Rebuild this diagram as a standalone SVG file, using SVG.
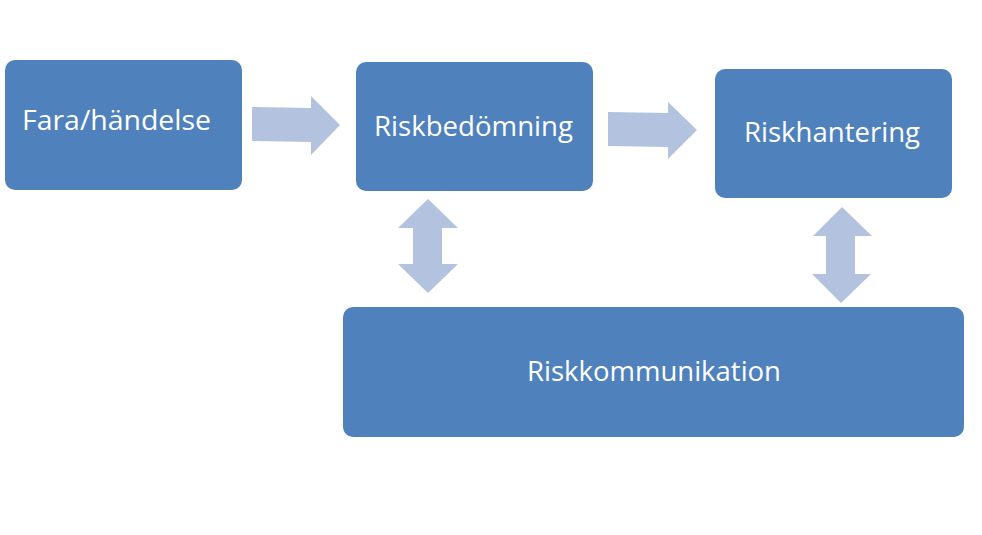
<svg xmlns="http://www.w3.org/2000/svg" width="982" height="535" viewBox="0 0 982 535">
<style>
.box{fill:#4F81BD}
.arr{fill:#B3C3DF}
.lbl{fill:#FFFFFF;font-family:"Open Sans","Liberation Sans",sans-serif;font-size:27px}
</style>
<rect width="982" height="535" fill="#FFFFFF"/>
<g id="connectors">
<polygon class="arr" points="252,107 311,108 311,96 340,125 311,155 311,142 252,141"/>
<polygon class="arr" points="608,112 668,113 668,102 697,130 668,159 668,147 608,146"/>
<polygon class="arr" points="428,199 458,228 442,228 442,264 458,264 428,293 398,264 413,264 413,228 398,228"/>
<polygon class="arr" points="842,207 872,236 855,236 855,274 871,274 841,303 812,274 826,274 826,236 813,236"/>
</g>
<g id="fara">
<rect class="box" x="5" y="60" width="237" height="130" rx="10"/>
<text class="lbl" x="22" y="130" textLength="189" lengthAdjust="spacingAndGlyphs">Fara/händelse</text>
</g>
<g id="riskbedomning">
<rect class="box" x="356" y="62" width="237" height="129" rx="10"/>
<text class="lbl" x="374" y="136" textLength="199" lengthAdjust="spacingAndGlyphs">Riskbedömning</text>
</g>
<g id="riskhantering">
<rect class="box" x="715" y="69" width="237" height="129" rx="10"/>
<text class="lbl" x="744" y="142" textLength="176" lengthAdjust="spacingAndGlyphs">Riskhantering</text>
</g>
<g id="riskkommunikation">
<rect class="box" x="343" y="307" width="621" height="130" rx="10"/>
<text class="lbl" x="527" y="381" textLength="254" lengthAdjust="spacingAndGlyphs">Riskkommunikation</text>
</g>
</svg>
